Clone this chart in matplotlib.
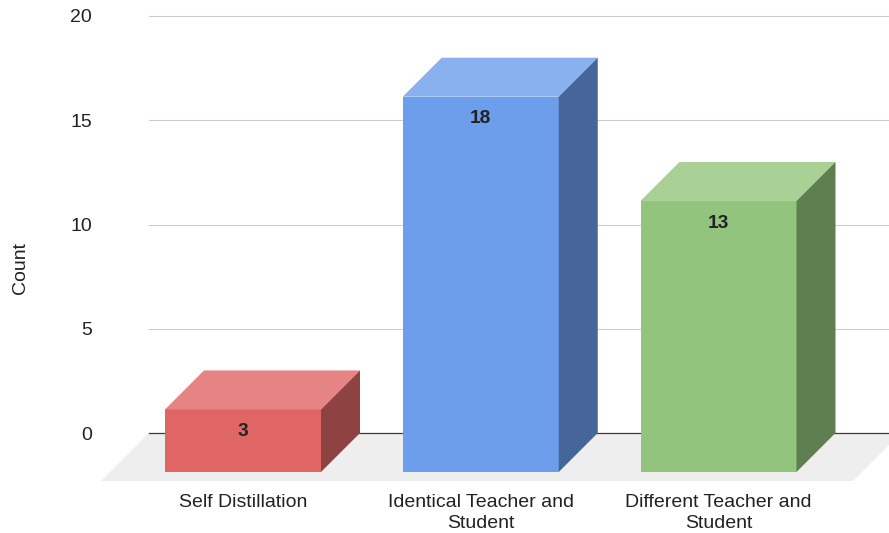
#!/usr/bin/env python3
"""Count per distillation setup, drawn as pseudo-3D columns on a grey floor."""

import matplotlib
matplotlib.use("Agg")
import matplotlib.pyplot as plt
from matplotlib.patches import Polygon

categories = ["Self Distillation", "Identical Teacher and\nStudent", "Different Teacher and\nStudent"]
counts = [3, 18, 13]
y_ticks = [0, 5, 10, 15, 20]

# front, top and side shades per column
FRONT = ["#e06666", "#6d9eeb", "#93c47d"]
TOP = ["#e68484", "#8ab1ef", "#a9d095"]
SIDE = ["#8f4242", "#466699", "#5f7f50"]
FLOOR = "#eeeeee"
GRID = "#cccccc"
BASE = "#3c3c3c"
TEXT = "#222222"

W, H = 889, 533
L, R, T, B = 149, 889, 16, 433  # plot box in pixels

plt.rcParams["font.family"] = ["Liberation Sans", "DejaVu Sans"]
fig = plt.figure(figsize=(W / 100, H / 100), dpi=100)
ax = fig.add_axes([L / W, 1 - B / H, (R - L) / W, (B - T) / H])

px_x = 237.75  # pixels per category
px_y = (B - T) / 20
ax.set_xlim((L - 243) / px_x, (R - 243) / px_x)
ax.set_ylim(0, 20)

# depth of the box, as x and y data offsets
dx = 39 / px_x
dy = 39 / px_y
bw = 156 / px_x / 2

for s in ax.spines.values():
    s.set_visible(False)

for t in y_ticks[1:]:
    ax.axhline(t, color=GRID, lw=0.8, zorder=1, clip_on=False)
ax.axhline(0, color=BASE, lw=0.9, zorder=2, clip_on=False)

# floor under the columns, cut off by the right edge of the figure
x0, x1 = ax.get_xlim()
fdx = 48 / px_x
fdy = 48 / px_y
ax.add_patch(Polygon([(x0, 0), (x1 + 12 / px_x, 0), (x1 + 12 / px_x - fdx, -fdy), (x0 - fdx, -fdy)],
                     closed=True, fc=FLOOR, ec="none", zorder=1.5, clip_on=False))

for i, v in enumerate(counts):
    left, right = i - bw, i + bw
    bottom = -dy
    top = v - dy
    ax.add_patch(Polygon([(left, bottom), (right, bottom), (right, top), (left, top)],
                         fc=FRONT[i], ec="none", zorder=3, clip_on=False))
    ax.add_patch(Polygon([(left, top), (right, top), (right + dx, v), (left + dx, v)],
                         fc=TOP[i], ec="none", zorder=3, clip_on=False))
    ax.add_patch(Polygon([(right, bottom), (right + dx, 0), (right + dx, v), (right, top)],
                         fc=SIDE[i], ec="none", zorder=3, clip_on=False))
    ax.annotate(str(v), (i, top), xytext=(0, -16), textcoords="offset points",
                ha="center", va="center", fontsize=13.8, fontweight="bold",
                color=TEXT, zorder=4)

ax.set_yticks(y_ticks)
ax.set_xticks(range(len(categories)), categories, linespacing=1.3)
ax.tick_params(axis="y", length=0, pad=41, labelsize=14, labelcolor=TEXT)
ax.tick_params(axis="x", length=0, pad=44, labelsize=14, labelcolor=TEXT)
ax.set_ylabel("Count", fontsize=14, color=TEXT)
ax.yaxis.set_label_coords((29 - L) / (R - L), (B - 268) / (B - T))

fig.savefig("out.png", dpi=100)
